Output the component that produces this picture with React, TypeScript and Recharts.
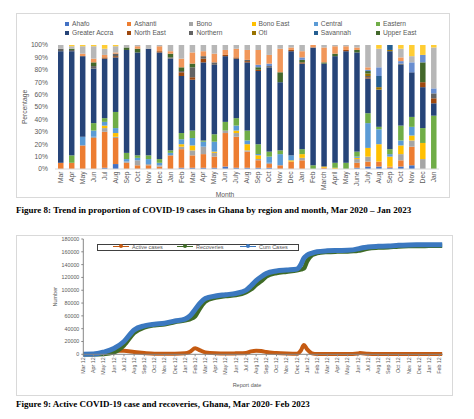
import React from 'react';
import { BarChart, Bar, XAxis, YAxis, Legend, LineChart, Line } from 'recharts';

// Figure 8: share of cases by region (%), Mar 2020 - Jan 2023
const months = ['Mar', 'Apr', 'May', 'Jun', 'Jul', 'Aug', 'Sep', 'Oct', 'Nov', 'Dec', 'Jan', 'Feb', 'Mar', 'Apr', 'May', 'Jun', 'July', 'Aug', 'Sep', 'Oct', 'Nov', 'Dec', 'Jan', 'Feb', 'March', 'April', 'May', 'June', 'July', 'Aug', 'Sep', 'Oct', 'Nov', 'Dec', 'Jan'];

const regionNames = ['Ahafo', 'Ashanti', 'Bono', 'Bono East', 'Central', 'Eastern', 'Greater Accra', 'North East', 'Northern', 'Oti', 'Savannah', 'Upper East', 'Upper West', 'Volta', 'Western', 'Western North'];
const regionColors = ['#4472C4', '#ED7D31', '#A5A5A5', '#FFC000', '#5B9BD5', '#70AD47', '#264478', '#9E480E', '#636363', '#997300', '#255E91', '#43682B', '#698ED0', '#F1975A', '#B7B7B7', '#FFCD33'];

const ahafo = [0, 0, 0, 0, 1, 4, 0, 0, 0, 0, 0, 1, 1, 1, 1, 2, 1, 1, 1, 1, 0, 0, 0, 0, 0, 0, 0, 1, 2, 2, 1, 2, 3, 0, 0];
const ashanti = [5, 5, 19, 25, 29, 21, 5, 3, 3, 2, 11, 15, 10, 11, 9, 27, 25, 13, 6, 3, 3, 6, 7, 0, 1, 0, 0, 4, 4, 4, 1, 5, 15, 0, 0];
const bono = [0, 0, 0, 1, 3, 1, 1, 4, 1, 1, 0, 2, 4, 6, 3, 2, 3, 1, 1, 1, 0, 0, 2, 0, 0, 0, 0, 3, 4, 0, 0, 5, 5, 8, 0];
const bonoEast = [0, 0, 0, 0, 2, 3, 0, 0, 0, 0, 0, 2, 4, 0, 1, 0, 2, 5, 3, 0, 0, 1, 3, 0, 1, 1, 0, 1, 7, 14, 8, 7, 4, 13, 0];
const central = [0, 0, 7, 5, 3, 4, 2, 2, 4, 2, 2, 4, 6, 4, 8, 0, 4, 3, 1, 5, 9, 4, 0, 0, 0, 0, 0, 1, 20, 12, 2, 4, 7, 0, 0];
const eastern = [0, 6, 0, 6, 3, 13, 5, 2, 3, 3, 2, 5, 6, 1, 6, 7, 6, 8, 8, 4, 3, 0, 4, 3, 0, 4, 5, 4, 8, 2, 4, 12, 8, 12, 43];
const greaterAccra = [90, 84, 65, 44, 48, 44, 83, 83, 86, 86, 74, 46, 41, 63, 56, 53, 48, 55, 59, 68, 55, 84, 69, 95, 83, 86, 90, 80, 28, 30, 79, 49, 36, 33, 10];
const northEast = [0, 0, 0, 0, 1, 1, 0, 0, 0, 1, 0, 3, 2, 3, 0, 1, 1, 1, 1, 0, 0, 1, 1, 0, 0, 0, 1, 0, 1, 0, 0, 0, 0, 4, 4];
const northern = [2, 1, 0, 2, 0, 2, 0, 0, 0, 0, 1, 1, 8, 2, 2, 0, 0, 1, 0, 1, 0, 0, 0, 0, 0, 0, 0, 0, 1, 0, 0, 1, 0, 0, 4];
const oti = [0, 0, 0, 0, 0, 0, 0, 0, 0, 0, 0, 0, 0, 0, 0, 0, 0, 0, 0, 0, 0, 0, 0, 0, 0, 0, 0, 0, 2, 2, 1, 0, 0, 0, 0];
const savannah = [0, 0, 0, 0, 0, 0, 0, 0, 0, 0, 0, 0, 0, 0, 0, 0, 0, 0, 0, 0, 0, 0, 0, 0, 0, 0, 0, 0, 0, 9, 4, 0, 0, 0, 0];
const upperEast = [0, 1, 0, 3, 0, 0, 2, 3, 0, 0, 3, 3, 3, 0, 0, 0, 0, 0, 2, 0, 8, 0, 2, 0, 1, 2, 0, 2, 2, 0, 0, 0, 0, 16, 0];
const upperWest = [0, 0, 0, 0, 0, 0, 0, 0, 0, 0, 0, 0, 0, 0, 0, 0, 0, 0, 2, 2, 0, 0, 2, 0, 0, 0, 0, 0, 1, 7, 0, 2, 8, 6, 4];
const volta = [0, 0, 2, 3, 2, 1, 0, 2, 0, 4, 2, 7, 9, 4, 7, 4, 7, 8, 12, 7, 19, 2, 5, 2, 12, 6, 3, 2, 2, 0, 0, 3, 0, 0, 0];
const western = [3, 2, 6, 10, 5, 5, 2, 1, 3, 1, 5, 11, 6, 5, 7, 4, 3, 4, 4, 8, 3, 2, 5, 0, 2, 1, 1, 2, 18, 15, 0, 7, 5, 0, 33];
const westernNorth = [0, 1, 1, 1, 3, 1, 0, 0, 0, 0, 0, 0, 0, 0, 0, 0, 0, 0, 0, 0, 0, 0, 0, 0, 0, 0, 0, 0, 0, 3, 0, 3, 9, 8, 2];

const regionSeries = [ahafo, ashanti, bono, bonoEast, central, eastern, greaterAccra, northEast, northern, oti, savannah, upperEast, upperWest, volta, western, westernNorth];
const percentTicks = [0, 10, 20, 30, 40, 50, 60, 70, 80, 90, 100];

// Figure 9: cumulative cases, recoveries and active cases (x = months since Mar 12 2020)
const reportLabels = ['Mar 12', 'Apr 12', 'May 12', 'Jun 12', 'Jul 12', 'Aug 12', 'Sep 12', 'Oct 12', 'Nov 12', 'Dec 12', 'Jan 12', 'Feb 12', 'Mar 12', 'Apr 12', 'May 12', 'Jun 12', 'Jul 12', 'Aug 12', 'Sep 12', 'Oct 12', 'Nov 12', 'Dec 12', 'Jan 12', 'Feb 12', 'Mar 12', 'Apr 12', 'May 12', 'Jun 12', 'Jul 12', 'Aug 12', 'Sep 12', 'Oct 12', 'Nov 12', 'Dec 12', 'Jan 12', 'Feb 12'];
const reportPos = [0, 1, 2, 3, 4, 5, 6, 7, 8, 9, 10, 10.5, 11, 11.5, 12, 13, 14, 15, 16, 16.5, 17, 17.5, 18, 19, 20, 21, 21.4, 21.7, 22, 22.5, 23, 24, 25, 26, 27, 27.2, 28, 29, 30, 31, 32, 33, 34, 35, 35.3];
const activeCases = [0, 200, 2000, 5500, 5500, 3500, 2000, 1000, 900, 1000, 1500, 4000, 9500, 6000, 3000, 1500, 1200, 1500, 2000, 4500, 5500, 5200, 3500, 2000, 1200, 800, 6000, 14500, 8000, 1500, 500, 400, 300, 300, 1200, 2000, 800, 400, 300, 300, 300, 300, 300, 300, 300];
const recoveries = [0, 0, 500, 3000, 14000, 33500, 42000, 45500, 47000, 50500, 53000, 55000, 59500, 72500, 82500, 88500, 91000, 92500, 97000, 101500, 108500, 114500, 121500, 127000, 129000, 131000, 132500, 134000, 145000, 155000, 158000, 159700, 160300, 160600, 161800, 162000, 165200, 166600, 167200, 168400, 169000, 169200, 169300, 169400, 169400];
const cumCases = [0, 300, 3500, 9000, 20000, 38000, 44500, 47000, 48500, 52000, 55000, 60000, 70000, 80000, 87000, 91000, 93000, 95000, 100000, 107000, 115000, 121000, 126000, 130000, 131500, 133000, 140000, 150000, 154500, 158000, 160000, 161500, 162000, 162300, 164500, 165500, 167500, 168500, 169000, 170200, 170800, 171000, 171100, 171200, 171200];
const countTicks = [0, 20000, 40000, 60000, 80000, 100000, 120000, 140000, 160000, 180000];

const barData = months.map((m, i) => {
  const row: Record<string, number | string> = { month: `${m}-${i}` };
  regionNames.forEach((name, k) => { row[`r${k}`] = regionSeries[k][i]; });
  return row;
});

const lineData = reportPos.map((pos, i) => ({
  pos,
  active: activeCases[i],
  rec: recoveries[i],
  cum: cumCases[i],
}));

const textColor = '#595959';
const font = '"Liberation Sans", Arial, sans-serif';

const MonthTick = ({ x, y, payload }: any) => (
  <g transform={`translate(${x},${y})`}>
    <text transform="rotate(-90)" x={0} y={0} dy="0.35em" textAnchor="end" fontSize={6.7} fill={textColor} fontFamily={font}>
      {String(payload.value).split('-')[0]}
    </text>
  </g>
);

const ReportTick = ({ x, y, payload }: any) => (
  <g transform={`translate(${x},${y})`}>
    <text transform="rotate(-90)" x={0} y={0} dy="0.35em" textAnchor="end" fontSize={5.3} fill={textColor} fontFamily={font}>
      {reportLabels[Math.round(payload.value)]}
    </text>
  </g>
);

const RegionLegend = () => (
  <div style={{ position: 'relative', width: 474, height: 40, fontFamily: font }}>
    {regionNames.slice(0, 12).map((name, k) => (
      <div
        key={name}
        style={{
          position: 'absolute',
          left: 65 + (k % 6) * 62.2,
          top: 20.3 + Math.floor(k / 6) * 8.7,
          display: 'flex',
          alignItems: 'center',
          fontSize: 6.7,
          lineHeight: '8px',
          color: textColor,
          whiteSpace: 'nowrap',
        }}
      >
        <span style={{ display: 'inline-block', width: 4, height: 4, background: regionColors[k], marginRight: 3 }} />
        {name}
      </div>
    ))}
  </div>
);

const lineSeries = [
  { key: 'active', name: 'Active cases', color: '#C55A11', left: 113 },
  { key: 'rec', name: 'Recoveries', color: '#3F6B26', left: 177 },
  { key: 'cum', name: 'Cum Cases', color: '#3B78C0', left: 240 },
];

const CasesLegend = () => (
  <div style={{ position: 'relative', width: 474, height: 30, fontFamily: font }}>
    <div style={{ position: 'absolute', left: 97, top: 18.7, width: 200, height: 5, border: '1px solid #404040' }} />
    {lineSeries.map(s => (
      <div key={s.key} style={{ position: 'absolute', left: s.left, top: 17.5, height: 8, display: 'flex', alignItems: 'center', fontSize: 5.5, color: textColor, whiteSpace: 'nowrap' }}>
        <span style={{ position: 'relative', display: 'inline-block', width: 16, height: 1.5, background: s.color, marginRight: 3 }}>
          <span style={{ position: 'absolute', left: 6, top: -1.5, width: 4, height: 4, borderRadius: 2, background: s.color }} />
        </span>
        {s.name}
      </div>
    ))}
  </div>
);

const caption: React.CSSProperties = {
  position: 'absolute',
  left: 16,
  height: 11,
  lineHeight: '11px',
  fontFamily: '"Liberation Serif", "Times New Roman", serif',
  fontWeight: 'bold',
  fontSize: 9,
  color: '#000',
  whiteSpace: 'nowrap',
};

export default function App() {
  return (
    <div style={{ position: 'absolute', left: 0, top: 0, width: 474, height: 419, background: '#fff', overflow: 'hidden' }}>
      <div style={{ position: 'absolute', left: 16, top: 13, width: 432, height: 183, border: '1px solid #d9d9d9' }} />
      <div style={{ position: 'absolute', left: 0, top: 0 }}>
        <BarChart
          width={474}
          height={200}
          data={barData}
          barSize={5.5}
          margin={{ top: 45, right: 35, left: 15, bottom: 6 }}
        >
          <XAxis
            dataKey="month"
            interval={0}
            height={25}
            tickLine={false}
            tickSize={0}
            tickMargin={2.5}
            stroke="#d9d9d9"
            tick={<MonthTick />}
            label={{ value: 'Month', position: 'center', dx: -22, dy: 12.7, fontSize: 6.7, fill: textColor, fontFamily: font }}
          />
          <YAxis
            width={40}
            domain={[0, 100]}
            ticks={percentTicks}
            tickFormatter={(v: number) => `${v}%`}
            axisLine={false}
            tickLine={false}
            tickSize={0}
            tickMargin={7}
            tick={{ fontSize: 6.7, fill: textColor, fontFamily: font }}
            label={{ value: 'Percentage', angle: -90, position: 'center', dx: -10, fontSize: 6.7, fill: textColor, fontFamily: font }}
          />
          {regionNames.map((name, k) => (
            <Bar key={name} name={name} dataKey={`r${k}`} stackId="regions" fill={regionColors[k]} isAnimationActive={false} />
          ))}
          <Legend
            layout="horizontal"
            verticalAlign="middle"
            align="center"
            content={<RegionLegend />}
            wrapperStyle={{ left: 0, top: 0, width: 474, height: 40 }}
          />
        </BarChart>
      </div>
      <div style={{ ...caption, top: 204.5 }}>
        Figure 8: Trend in proportion of COVID-19 cases in Ghana by region and month, Mar 2020 – Jan 2023
      </div>

      <div style={{ position: 'absolute', left: 16, top: 235, width: 435, height: 159, border: '1px solid #d9d9d9' }} />
      <div style={{ position: 'absolute', left: 0, top: 225 }}>
        <LineChart
          width={474}
          height={170}
          data={lineData}
          margin={{ top: 14, right: 31.3, left: 43.3, bottom: 10.7 }}
        >
          <XAxis
            dataKey="pos"
            type="number"
            domain={[0, 35.35]}
            ticks={reportLabels.map((_, i) => i)}
            interval={0}
            height={30}
            tickSize={2}
            tickMargin={1}
            stroke="#868686"
            tick={<ReportTick />}
            label={{ value: 'Report date', position: 'center', dx: -16, dy: 15.7, fontSize: 5.5, fill: textColor, fontFamily: font }}
          />
          <YAxis
            width={40}
            domain={[0, 180000]}
            ticks={countTicks}
            tickSize={2}
            tickMargin={2}
            stroke="#868686"
            tick={{ fontSize: 5.3, fill: textColor, fontFamily: font }}
            label={{ value: 'Number', angle: -90, position: 'center', dx: -8.3, fontSize: 5.5, fill: textColor, fontFamily: font }}
          />
          <Legend
            layout="horizontal"
            verticalAlign="middle"
            align="center"
            content={<CasesLegend />}
            wrapperStyle={{ left: 0, top: 0, width: 474, height: 30 }}
          />
          <Line type="monotone" dataKey="active" stroke="#C55A11" strokeWidth={4} dot={false} isAnimationActive={false} />
          <Line type="monotone" dataKey="rec" stroke="#3F6B26" strokeWidth={4.5} dot={false} isAnimationActive={false} />
          <Line type="monotone" dataKey="cum" stroke="#3B78C0" strokeWidth={5} dot={false} isAnimationActive={false} />
        </LineChart>
      </div>
      <div style={{ ...caption, top: 398.5 }}>
        Figure 9: Active COVID-19 case and recoveries, Ghana, Mar 2020- Feb 2023
      </div>
    </div>
  );
}
